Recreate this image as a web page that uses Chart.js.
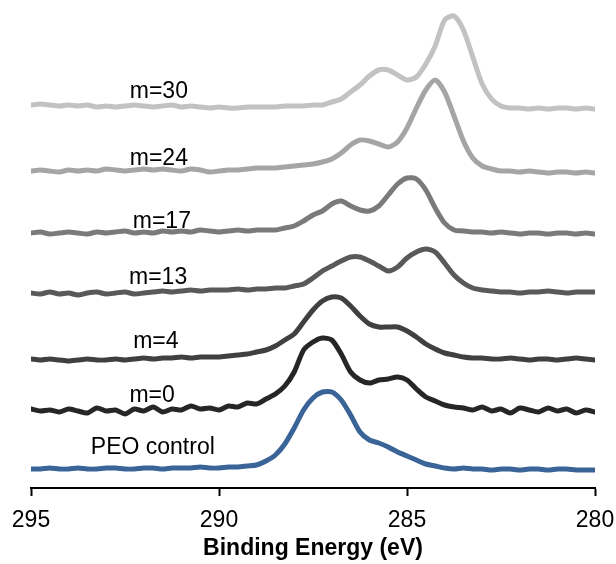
<!DOCTYPE html>
<html lang="en">
<head>
  <meta charset="UTF-8">
  <title>C 1s spectra</title>
  <script src="https://cdn.jsdelivr.net/npm/chart.js"></script>
  <style>
    body {
      margin: 0;
      background: #ffffff;
    }
    canvas {
      display: block;
    }
  </style>
</head>
<body>
  <canvas id="xpsChart" width="616" height="564"></canvas>

  <script>
    // binding energy grid (eV), 0.25 eV steps
    const energy = [
      295.00, 294.75, 294.50, 294.25, 294.00, 293.75, 293.50, 293.25, 293.00, 292.75,
      292.50, 292.25, 292.00, 291.75, 291.50, 291.25, 291.00, 290.75, 290.50, 290.25,
      290.00, 289.75, 289.50, 289.25, 289.00, 288.75, 288.50, 288.25, 288.00, 287.75,
      287.50, 287.25, 287.00, 286.75, 286.50, 286.25, 286.00, 285.75, 285.50, 285.25,
      285.00, 284.75, 284.50, 284.25, 284.00, 283.75, 283.50, 283.25, 283.00, 282.75,
      282.50, 282.25, 282.00, 281.75, 281.50, 281.25, 281.00, 280.75, 280.50, 280.25,
      280.00
    ];

    const xTicks = [295, 290, 285, 280];

    // stacked intensities (offset for display, arb. units)
    const peoControl = [
      19, 19, 20, 19, 19, 20, 19, 19, 20, 20, 19, 19, 20, 20, 19, 20, 20, 20, 21, 20,
      20, 21, 21, 22, 23, 27, 33, 44, 60, 78, 90, 96, 96, 88, 73, 56, 48, 45, 41, 36,
      32, 28, 24, 22, 20, 19, 20, 19, 19, 18, 19, 19, 18, 19, 19, 18, 19, 19, 18, 18,
      18
    ];
    const m0 = [
      79, 77, 78, 76, 79, 77, 75, 80, 77, 78, 74, 79, 77, 81, 76, 79, 78, 82, 79, 80,
      78, 82, 81, 85, 84, 89, 94, 102, 116, 138, 146, 150, 148, 134, 116, 108, 105, 108, 109, 111,
      108, 99, 91, 87, 83, 81, 80, 78, 81, 77, 79, 75, 80, 78, 76, 80, 77, 79, 75, 78,
      76
    ];
    const m4 = [
      129, 128, 129, 128, 127, 128, 129, 128, 128, 129, 128, 129, 130, 129, 130, 130, 131, 130, 131, 131,
      131, 132, 133, 134, 136, 138, 142, 148, 154, 166, 178, 187, 191, 190, 182, 172, 164, 161, 161, 161,
      157, 151, 144, 139, 135, 133, 131, 130, 130, 129, 129, 130, 129, 128, 129, 129, 128, 129, 130, 129,
      128
    ];
    const m13 = [
      195, 194, 196, 194, 195, 193, 195, 196, 194, 195, 196, 194, 195, 196, 197, 196, 197, 198, 197, 198,
      198, 198, 199, 198, 199, 199, 200, 200, 202, 204, 210, 217, 222, 227, 231, 231, 227, 222, 217, 221,
      230, 236, 239, 236, 225, 213, 205, 200, 198, 197, 196, 196, 195, 196, 196, 197, 196, 195, 196, 196,
      196
    ];
    const m17 = [
      255, 256, 254, 255, 256, 255, 254, 256, 255, 256, 257, 255, 256, 255, 257, 256, 257, 256, 258, 257,
      256, 257, 258, 257, 258, 258, 258, 260, 262, 267, 273, 277, 284, 287, 282, 278, 277, 282, 293, 304,
      310, 309, 298, 280, 265, 258, 257, 256, 256, 255, 256, 255, 254, 255, 255, 254, 255, 255, 254, 255,
      254
    ];
    const m24 = [
      317, 318, 317, 316, 318, 317, 318, 317, 319, 318, 317, 318, 319, 318, 319, 318, 317, 319, 318, 316,
      317, 318, 318, 319, 320, 320, 320, 321, 322, 323, 324, 326, 329, 335, 343, 348, 347, 344, 341, 346,
      360, 380, 398, 408, 396, 372, 347, 330, 322, 319, 317, 317, 316, 317, 316, 315, 316, 316, 315, 316,
      315
    ];
    const m30 = [
      383, 384, 383, 382, 383, 382, 383, 381, 382, 381, 382, 383, 382, 381, 382, 383, 381, 382, 381, 380,
      381, 380, 380, 381, 381, 381, 381, 382, 382, 382, 383, 383, 386, 389, 396, 403, 412, 418, 418, 413,
      408, 411, 424, 442, 468, 472, 458, 431, 404, 389, 382, 380, 380, 379, 380, 379, 380, 380, 379, 380,
      379
    ];

    const seriesNames = ["PEO control", "m=0", "m=4", "m=13", "m=17", "m=24", "m=30"];

    // colour and label anchor (eV, intensity) per curve
    const styles = [
      { color: "#3a6497", at: [291.76, 40] },
      { color: "#262626", at: [291.78, 92] },
      { color: "#404040", at: [291.68, 146] },
      { color: "#595959", at: [291.62, 210] },
      { color: "#7a7a7a", at: [291.52, 266] },
      { color: "#a5a5a5", at: [291.60, 329] },
      { color: "#c2c2c2", at: [291.60, 396] }
    ];

    const allSeries = [peoControl, m0, m4, m13, m17, m24, m30];

    const datasets = allSeries.map((values, i) => ({
      label: seriesNames[i],
      data: values.map((v, k) => ({ x: energy[k], y: v })),
      borderColor: styles[i].color,
      borderWidth: 5,
      borderJoinStyle: "round",
      borderCapStyle: "round",
      pointRadius: 0,
      tension: 0.25,
      fill: false
    }));

    // names written next to each spectrum
    const curveLabels = {
      id: "curveLabels",
      afterDatasetsDraw(chart) {
        const { ctx, scales } = chart;
        ctx.save();
        ctx.font = "23px 'Liberation Sans', Arial, sans-serif";
        ctx.fillStyle = "#000000";
        ctx.textAlign = "center";
        ctx.textBaseline = "middle";
        seriesNames.forEach((name, i) => {
          const [e, v] = styles[i].at;
          ctx.fillText(name, scales.x.getPixelForValue(e), scales.y.getPixelForValue(v));
        });
        ctx.restore();
      }
    };

    new Chart(document.getElementById("xpsChart"), {
      type: "line",
      data: { datasets },
      plugins: [curveLabels],
      options: {
        responsive: false,
        animation: false,
        layout: {
          padding: { left: 31, right: 21, top: 8, bottom: 0 }
        },
        plugins: {
          legend: { display: false },
          tooltip: { enabled: false }
        },
        scales: {
          x: {
            type: "linear",
            reverse: true,
            min: 280,
            max: 295,
            afterBuildTicks: (axis) => {
              axis.ticks = xTicks.map(v => ({ value: v }));
            },
            afterFit: (axis) => {
              // fixed axis band; end labels may hang into the side margins
              axis.height = 76;
              axis.paddingLeft = 0;
              axis.paddingRight = 0;
            },
            border: { display: true, color: "#000000", width: 2 },
            grid: {
              drawOnChartArea: false,
              drawTicks: true,
              tickLength: 8,
              tickWidth: 2,
              tickColor: "#000000"
            },
            ticks: {
              color: "#000000",
              padding: 11,
              maxRotation: 0,
              font: { family: "'Liberation Sans', Arial, sans-serif", size: 23 }
            },
            title: {
              display: true,
              text: "Binding Energy (eV)",
              color: "#000000",
              padding: { top: 0, bottom: 2 },
              font: { family: "'Liberation Sans', Arial, sans-serif", size: 23, weight: "bold" }
            }
          },
          y: {
            display: false,
            min: 0,
            max: 480
          }
        }
      }
    });
  </script>
</body>
</html>
